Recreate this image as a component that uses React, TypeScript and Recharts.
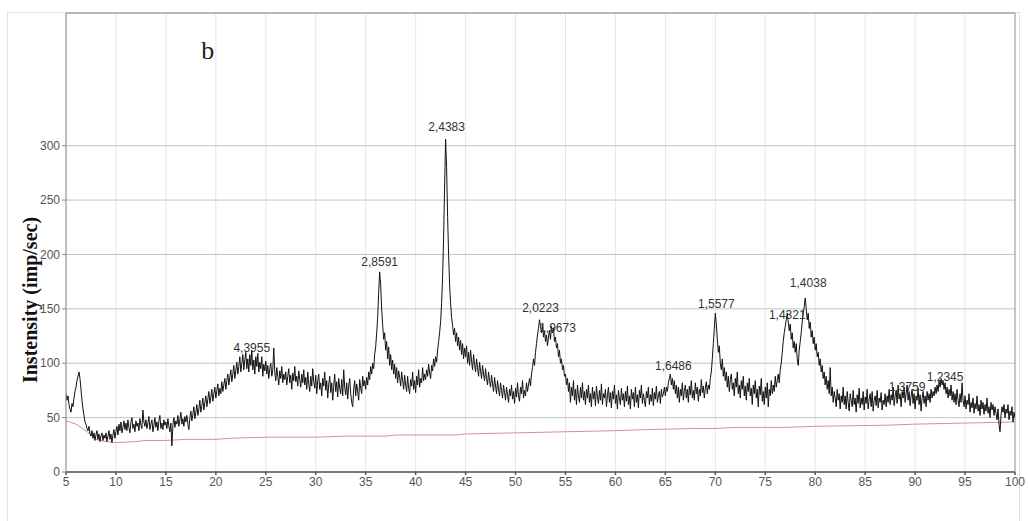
import { LineChart, Line, XAxis, YAxis, CartesianGrid, ReferenceLine, ReferenceDot, Label } from "recharts";

// 2-theta scan, 0.1 deg step starting at 5 deg (one row = 2 deg)
const START = 5;
const STEP = 0.1;

const intensity = [
    72, 66, 70, 62, 58, 55, 63, 60, 68, 74, 78, 84, 88, 92, 86, 76, 66, 58, 52, 46,
    44, 40, 38, 42, 35, 33, 38, 31, 36, 29, 34, 38, 30, 35, 28, 33, 36, 29, 34, 31,
    36, 28, 33, 38, 30, 35, 27, 34, 39, 31, 37, 42, 34, 44, 38, 46, 36, 41, 47, 39,
    45, 38, 48, 41, 36, 46, 50, 40, 44, 37, 47, 42, 45, 38, 49, 43, 40, 57, 46, 42,
    48, 40, 45, 51, 39, 44, 48, 37, 43, 50, 41, 46, 38, 47, 52, 40, 45, 39, 48, 43,
    46, 40, 49, 42, 37, 45, 24, 43, 50, 41, 47, 44, 52, 42, 48, 55, 44, 49, 42, 51,
    46, 52, 44, 39, 50, 56, 47, 53, 60, 49, 55, 62, 52, 58, 66, 55, 61, 68, 57, 64,
    70, 60, 67, 74, 63, 69, 76, 65, 72, 78, 68, 75, 81, 70, 77, 72, 83, 74, 80, 86,
    76, 84, 90, 80, 87, 94, 83, 90, 98, 86, 93, 101, 90, 97, 106, 92, 100, 108, 94, 103,
    110, 95, 104, 92, 108, 98, 112, 94, 103, 90, 106, 97, 109, 92, 101, 95, 106, 88, 99, 93,
    102, 90, 98, 86, 95, 100, 88, 94, 114, 92, 84, 96, 88, 80, 93, 86, 97, 82, 90, 85,
    92, 80, 88, 95, 82, 89, 76, 91, 84, 97, 83, 88, 79, 93, 85, 78, 90, 82, 94, 80,
    87, 76, 92, 81, 74, 88, 79, 95, 83, 77, 89, 72, 84, 90, 76, 82, 70, 86, 79, 92,
    75, 84, 68, 80, 88, 73, 82, 66, 79, 90, 74, 83, 69, 86, 77, 72, 85, 70, 94, 78,
    71, 82, 67, 79, 86, 72, 64, 60, 76, 84, 70, 81, 74, 66, 85, 77, 72, 88, 79, 84,
    76, 87, 80, 92, 85, 97, 90, 100, 95, 108, 115, 128, 142, 165, 184, 172, 150, 135, 122, 128,
    112, 120, 104, 115, 98, 108, 94, 103, 90, 99, 86, 96, 82, 93, 87, 79, 92, 84, 76, 89,
    80, 74, 88, 77, 72, 85, 79, 92, 76, 84, 73, 88, 80, 94, 78, 86, 82, 96, 84, 90,
    85, 94, 88, 99, 91, 86, 98, 93, 104, 97, 106, 101, 112, 120, 128, 138, 155, 180, 215, 262,
    306, 280, 235, 200, 172, 155, 142, 135, 126, 132, 120, 128, 116, 124, 112, 121, 108, 118, 104, 114,
    106, 116, 100, 110, 98, 112, 102, 94, 108, 99, 92, 104, 96, 88, 101, 93, 86, 98, 90, 84,
    95, 86, 80, 92, 84, 78, 89, 81, 74, 87, 79, 72, 84, 76, 70, 82, 75, 68, 80, 73,
    66, 78, 71, 64, 76, 70, 80, 67, 74, 63, 77, 69, 82, 70, 65, 78, 72, 84, 68, 75,
    70, 82, 74, 80, 86, 79, 90, 96, 104, 98, 110, 118, 126, 132, 140, 134, 128, 136, 124, 130,
    120, 126, 116, 124, 130, 122, 134, 128, 132, 120, 124, 114, 118, 106, 112, 100, 104, 94, 98, 88,
    90, 80, 86, 74, 82, 64, 78, 70, 84, 66, 76, 62, 80, 70, 64, 78, 68, 82, 66, 74,
    62, 76, 68, 80, 64, 72, 60, 78, 67, 74, 61, 79, 69, 63, 75, 66, 81, 62, 72, 68,
    76, 60, 70, 78, 64, 73, 59, 74, 67, 80, 63, 71, 58, 75, 68, 62, 77, 66, 72, 60,
    74, 65, 79, 62, 70, 58, 76, 67, 73, 60, 78, 64, 71, 59, 75, 68, 80, 63, 72, 66,
    60, 74, 68, 78, 62, 71, 65, 77, 61, 73, 67, 79, 64, 70, 74, 63, 76, 69, 72, 78,
    70, 78, 74, 82, 86, 90, 80, 86, 76, 84, 72, 80, 68, 78, 64, 76, 70, 82, 66, 74,
    80, 68, 76, 64, 79, 71, 84, 68, 75, 66, 82, 72, 78, 65, 76, 70, 85, 73, 79, 68,
    77, 83, 72, 80, 76, 86, 92, 104, 118, 132, 146, 136, 122, 110, 116, 100, 94, 104, 88, 96,
    84, 92, 78, 88, 74, 85, 90, 76, 82, 70, 86, 78, 92, 72, 80, 68, 84, 76, 88, 70,
    79, 66, 82, 74, 86, 70, 77, 62, 80, 72, 84, 68, 76, 60, 79, 71, 86, 65, 74, 62,
    78, 68, 82, 60, 76, 70, 84, 72, 80, 74, 88, 78, 84, 90, 82, 94, 100, 110, 120, 128,
    134, 140, 146, 138, 130, 136, 122, 128, 114, 120, 110, 118, 104, 98, 112, 120, 128, 138, 146, 152,
    160, 150, 140, 146, 132, 138, 124, 130, 118, 124, 112, 118, 106, 110, 98, 104, 92, 98, 86, 92,
    80, 88, 76, 84, 72, 96, 70, 78, 64, 74, 68, 60, 76, 66, 72, 58, 70, 64, 78, 62,
    70, 58, 74, 64, 56, 72, 66, 60, 75, 62, 68, 55, 71, 63, 77, 59, 68, 62, 74, 57,
    69, 63, 76, 58, 67, 72, 60, 74, 56, 66, 70, 61, 75, 59, 68, 64, 73, 57, 66, 62,
    72, 60, 70, 64, 76, 62, 71, 66, 78, 61, 70, 75, 63, 80, 67, 72, 60, 74, 68, 78,
    64, 72, 80, 66, 74, 61, 70, 76, 63, 72, 58, 70, 66, 77, 62, 71, 56, 68, 74, 63,
    70, 60, 74, 66, 72, 64, 76, 68, 74, 70, 78, 72, 80, 74, 84, 78, 86, 80, 84, 76,
    82, 72, 78, 68, 76, 70, 80, 66, 74, 64, 72, 62, 76, 66, 60, 72, 64, 82, 66, 60,
    70, 58, 66, 62, 72, 55, 64, 59, 68, 54, 63, 58, 70, 56, 62, 52, 66, 58, 64, 53,
    62, 56, 68, 54, 60, 50, 64, 57, 62, 52, 60, 54, 48, 58, 44, 37, 52, 60, 55, 62,
    50, 58, 54, 62, 48, 56, 52, 60, 46, 55, 50,
];

const backgroundAngles = [5, 6, 7, 8, 9, 10, 12, 13, 15, 17, 20, 21.5, 25, 30, 33, 37, 38, 44, 45, 50, 55, 60, 63, 68, 70, 72, 77, 80, 87, 90, 95, 100];
const backgroundLevels = [47, 44, 38, 30, 28, 27, 28, 29, 29, 30, 30, 31, 32, 32, 33, 33, 34, 34, 35, 36, 37, 38, 39, 40, 40, 41, 41, 42, 43, 44, 45, 46];

const peakLabels = ["4,3955", "2,8591", "2,4383", "2,0223", "1,9673", "1,6486", "1,5577", "1,4321", "1,4038", "1,3759", "1,2345"];
const peakAngles = [23.6, 36.4, 43.1, 52.5, 54.2, 65.8, 70.1, 77.2, 79.3, 89.2, 93.0];
const peakLabelLevels = [114, 193, 317, 151, 133, 97.5, 154.5, 145, 174, 78, 88];

const xTicks = [5, 10, 15, 20, 25, 30, 35, 40, 45, 50, 55, 60, 65, 70, 75, 80, 85, 90, 95, 100];
const yTicks = [0, 50, 100, 150, 200, 250, 300];

const scan = intensity.map((v, i) => ({ angle: Math.round((START + i * STEP) * 10) / 10, counts: v }));
const background = backgroundAngles.map((a, i) => ({ angle: a, counts: backgroundLevels[i] }));

const sans = "Liberation Sans, Arial, sans-serif";
const serif = "Liberation Serif, Times New Roman, serif";
const tickStyle = { fontFamily: sans, fontSize: 12, fill: "#555" };

const YTitle = () => (
    <text
        transform="translate(30, 300) rotate(-90)"
        textAnchor="middle"
        dominantBaseline="central"
        fontFamily={serif}
        fontWeight="bold"
        fontSize={20}
        fill="#111"
    >
        Instensity (imp/sec)
    </text>
);

export default function App() {
    return (
        <div style={{ position: "absolute", left: 0, top: 0, width: 1028, height: 521, background: "#fff" }}>
            <div style={{ position: "absolute", left: 7, top: 12, width: 1013, height: 520, border: "1px solid #e2e2e2", boxSizing: "border-box" }} />
            <LineChart width={1028} height={521} margin={{ top: 13, right: 13, left: 0, bottom: 0 }}>
                <CartesianGrid horizontal={false} stroke="#e6e6e6" />
                <CartesianGrid vertical={false} stroke="#c4c4c4" />
                <XAxis
                    dataKey="angle"
                    type="number"
                    domain={[5, 100]}
                    ticks={xTicks}
                    height={49}
                    tickSize={3}
                    tick={tickStyle}
                    stroke="#555"
                    strokeWidth={1.5}
                    allowDataOverflow
                />
                <YAxis
                    type="number"
                    domain={[0, 422]}
                    ticks={yTicks}
                    width={66}
                    tickSize={4}
                    tick={tickStyle}
                    stroke="#888"
                    allowDataOverflow
                >
                    <Label content={<YTitle />} />
                </YAxis>
                <ReferenceLine y={422} stroke="#999" />
                <ReferenceLine x={100} stroke="#999" />
                <Line
                    data={background}
                    dataKey="counts"
                    type="linear"
                    stroke="#d98c99"
                    strokeWidth={1}
                    dot={false}
                    isAnimationActive={false}
                />
                <Line
                    data={scan}
                    dataKey="counts"
                    type="linear"
                    stroke="#111"
                    strokeWidth={1}
                    dot={false}
                    isAnimationActive={false}
                />
                {peakLabels.map((text, i) => (
                    <ReferenceDot
                        key={text}
                        x={peakAngles[i]}
                        y={peakLabelLevels[i]}
                        r={0}
                        stroke="none"
                        label={{ value: text, position: "center", fontFamily: sans, fontSize: 12, fill: "#333" }}
                    />
                ))}
                <ReferenceDot
                    x={19.2}
                    y={388}
                    r={0}
                    stroke="none"
                    label={{ value: "b", position: "center", fontFamily: serif, fontSize: 26, fill: "#222" }}
                />
            </LineChart>
        </div>
    );
}
